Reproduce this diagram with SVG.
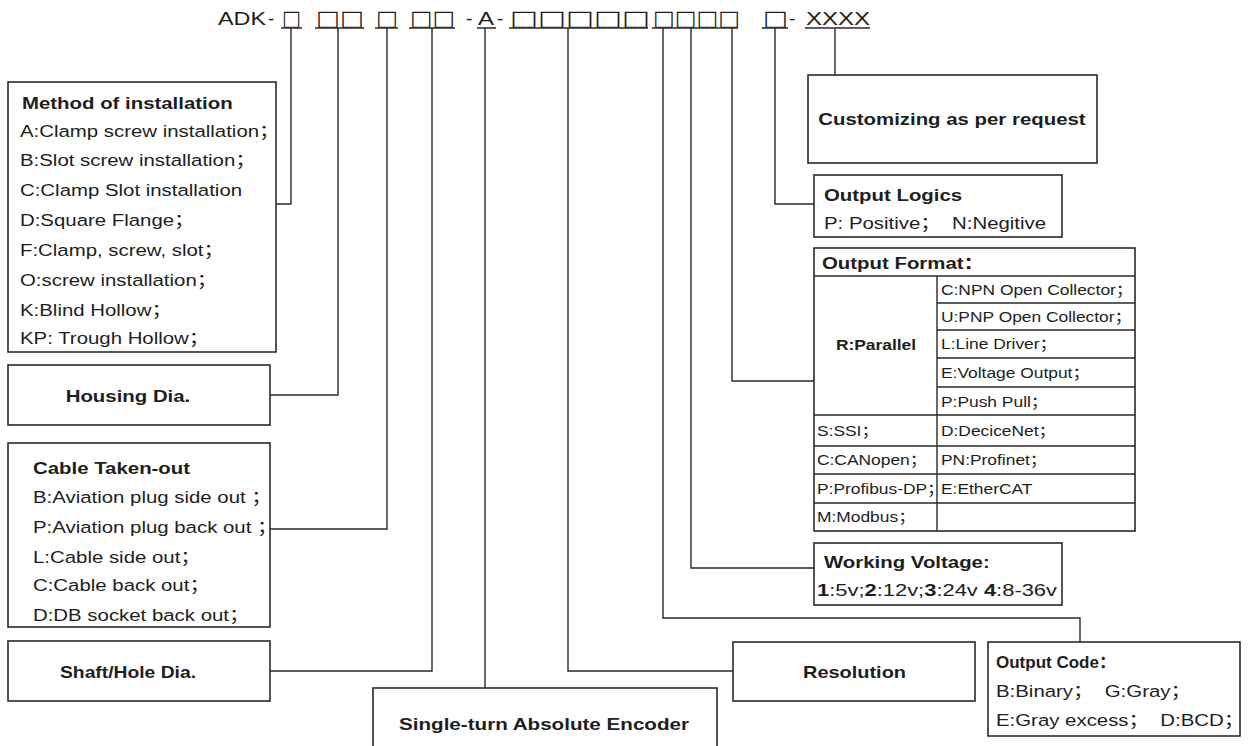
<svg xmlns="http://www.w3.org/2000/svg" width="1248" height="746" viewBox="0 0 1248 746">
<style>
.t{font-family:"Liberation Sans","Noto Sans CJK SC",sans-serif;font-size:17px;fill:#1e1e1e}
.b{font-weight:bold}
.w{transform-box:fill-box;transform-origin:0 0;transform:scaleX(1.2)}
.wc{text-anchor:middle;transform-box:fill-box;transform-origin:50% 0;transform:scaleX(1.2)}
.c{text-anchor:middle}
.s{font-size:14.5px}
.h{font-size:19px}
.q{font-family:"DejaVu Sans",sans-serif;font-size:21px;fill:#1e1e1e}
.box{fill:#fff;stroke:#2a2a2a;stroke-width:1.6}
.cn{fill:none;stroke:#2a2a2a;stroke-width:1.4}
.ul{stroke:#2a2a2a;stroke-width:1.4}
</style>
<rect width="1248" height="746" fill="#fff"/>

<g id="header">
<text class="t h" x="218" y="25" textLength="48" lengthAdjust="spacingAndGlyphs">ADK</text>
<text class="t h" x="268" y="25">-</text>
<text class="q" x="282" y="25" textLength="19" lengthAdjust="spacingAndGlyphs">□</text>
<text class="q" x="316" y="25" textLength="48" lengthAdjust="spacingAndGlyphs">□□</text>
<text class="q" x="376" y="25" textLength="22" lengthAdjust="spacingAndGlyphs">□</text>
<text class="q" x="410" y="25" textLength="45" lengthAdjust="spacingAndGlyphs">□□</text>
<text class="t h" x="466" y="25">-</text>
<text class="t h" x="478" y="25" textLength="16" lengthAdjust="spacingAndGlyphs">A</text>
<text class="t h" x="497" y="25">-</text>
<text class="q" x="510" y="25" textLength="140" lengthAdjust="spacingAndGlyphs">□□□□□</text>
<text class="q" x="653" y="25" textLength="87" lengthAdjust="spacingAndGlyphs">□□□□</text>
<text class="q" x="763" y="25" textLength="25" lengthAdjust="spacingAndGlyphs">□</text>
<text class="t h" x="789" y="25">-</text>
<text class="t h" x="806" y="25" textLength="64" lengthAdjust="spacingAndGlyphs">XXXX</text>
<path class="ul" d="M281 28H302M315 28H364M375 28H398M409 28H455M477 28H496M509 28H648M652 28H738M762 28H788M805 28H870"/>
</g>

<g id="connectors">
<path class="cn" d="M291 28V204H268"/>
<path class="cn" d="M338 28V395H270"/>
<path class="cn" d="M387 28V529H270"/>
<path class="cn" d="M432 28V671H270"/>
<path class="cn" d="M485 28V688"/>
<path class="cn" d="M568 28V671H733"/>
<path class="cn" d="M663 28V618H1080V642"/>
<path class="cn" d="M691 28V568H814"/>
<path class="cn" d="M732 28V381H814"/>
<path class="cn" d="M775 28V204H814"/>
<path class="cn" d="M835 28V75"/>
</g>

<g id="method">
<rect class="box" x="8" y="82" width="268" height="270"/>
<text class="t b w" x="22" y="109">Method of installation</text>
<text class="t w" x="20" y="137">A:Clamp screw installation；</text>
<text class="t w" x="20" y="166">B:Slot screw installation；</text>
<text class="t w" x="20" y="196">C:Clamp Slot installation</text>
<text class="t w" x="20" y="226">D:Square Flange；</text>
<text class="t w" x="20" y="256">F:Clamp, screw, slot；</text>
<text class="t w" x="20" y="286">O:screw installation；</text>
<text class="t w" x="20" y="316">K:Blind Hollow；</text>
<text class="t w" x="20" y="344">KP: Trough Hollow；</text>
</g>

<g id="housing">
<rect class="box" x="8" y="365" width="262" height="60"/>
<text class="t b wc" x="128" y="402">Housing Dia.</text>
</g>

<g id="cable">
<rect class="box" x="8" y="443" width="262" height="184"/>
<text class="t b w" x="33" y="474">Cable Taken-out</text>
<text class="t w" x="33" y="503">B:Aviation plug side out ；</text>
<text class="t w" x="33" y="533">P:Aviation plug back out ；</text>
<text class="t w" x="33" y="563">L:Cable side out；</text>
<text class="t w" x="33" y="591">C:Cable back out；</text>
<text class="t w" x="33" y="621">D:DB socket back out；</text>
</g>

<g id="shaft">
<rect class="box" x="8" y="641" width="262" height="60"/>
<text class="t b" x="60" y="678" font-size="19" textLength="136" lengthAdjust="spacingAndGlyphs">Shaft/Hole Dia.</text>
</g>

<g id="encoder">
<rect class="box" x="373" y="688" width="344" height="70"/>
<text class="t b" x="399" y="730" font-size="19" textLength="290" lengthAdjust="spacingAndGlyphs">Single-turn Absolute Encoder</text>
</g>

<g id="resolution">
<rect class="box" x="733" y="642" width="242" height="59"/>
<text class="t b" x="803" y="678" font-size="19" textLength="103" lengthAdjust="spacingAndGlyphs">Resolution</text>
</g>

<g id="outputcode">
<rect class="box" x="988" y="642" width="252" height="94"/>
<text class="t b" x="996" y="668" font-size="18">Output Code：</text>
<text class="t w" x="996" y="697" xml:space="preserve">B:Binary；  G:Gray；</text>
<text class="t w" x="996" y="726" xml:space="preserve">E:Gray excess；  D:BCD；</text>
</g>

<g id="voltage">
<rect class="box" x="814" y="543" width="248" height="62"/>
<text class="t b w" x="824" y="568">Working Voltage:</text>
<text class="t" x="817" y="596" textLength="240" lengthAdjust="spacingAndGlyphs"><tspan font-weight="bold">1</tspan>:5v;<tspan font-weight="bold">2</tspan>:12v;<tspan font-weight="bold">3</tspan>:24v <tspan font-weight="bold">4</tspan>:8-36v</text>
</g>

<g id="format">
<rect class="box" x="814" y="248" width="321" height="283"/>
<path class="cn" d="M814 276H1135M937 276V531M937 303H1135M937 330H1135M937 358H1135M937 387H1135M814 415H1135M814 446H1135M814 474H1135M814 503H1135"/>
<text class="t b w" x="822" y="269">Output Format：</text>
<text class="t b s wc" x="876" y="350">R:Parallel</text>
<text class="t s w" x="941" y="295">C:NPN Open Collector；</text>
<text class="t s w" x="941" y="322">U:PNP Open Collector；</text>
<text class="t s w" x="941" y="349">L:Line Driver；</text>
<text class="t s w" x="941" y="378">E:Voltage Output；</text>
<text class="t s w" x="941" y="407">P:Push Pull；</text>
<text class="t s w" x="817" y="436">S:SSI；</text>
<text class="t s w" x="941" y="436">D:DeciceNet；</text>
<text class="t s w" x="817" y="465">C:CANopen；</text>
<text class="t s w" x="941" y="465">PN:Profinet；</text>
<text class="t s w" x="817" y="494">P:Profibus-DP；</text>
<text class="t s w" x="941" y="494">E:EtherCAT</text>
<text class="t s w" x="817" y="522">M:Modbus；</text>
</g>

<g id="logics">
<rect class="box" x="814" y="175" width="248" height="62"/>
<text class="t b w" x="824" y="201">Output Logics</text>
<text class="t w" x="824" y="229" xml:space="preserve">P: Positive；  N:Negitive</text>
</g>

<g id="custom">
<rect class="box" x="808" y="75" width="289" height="88"/>
<text class="t b wc" x="952" y="125">Customizing as per request</text>
</g>
</svg>
